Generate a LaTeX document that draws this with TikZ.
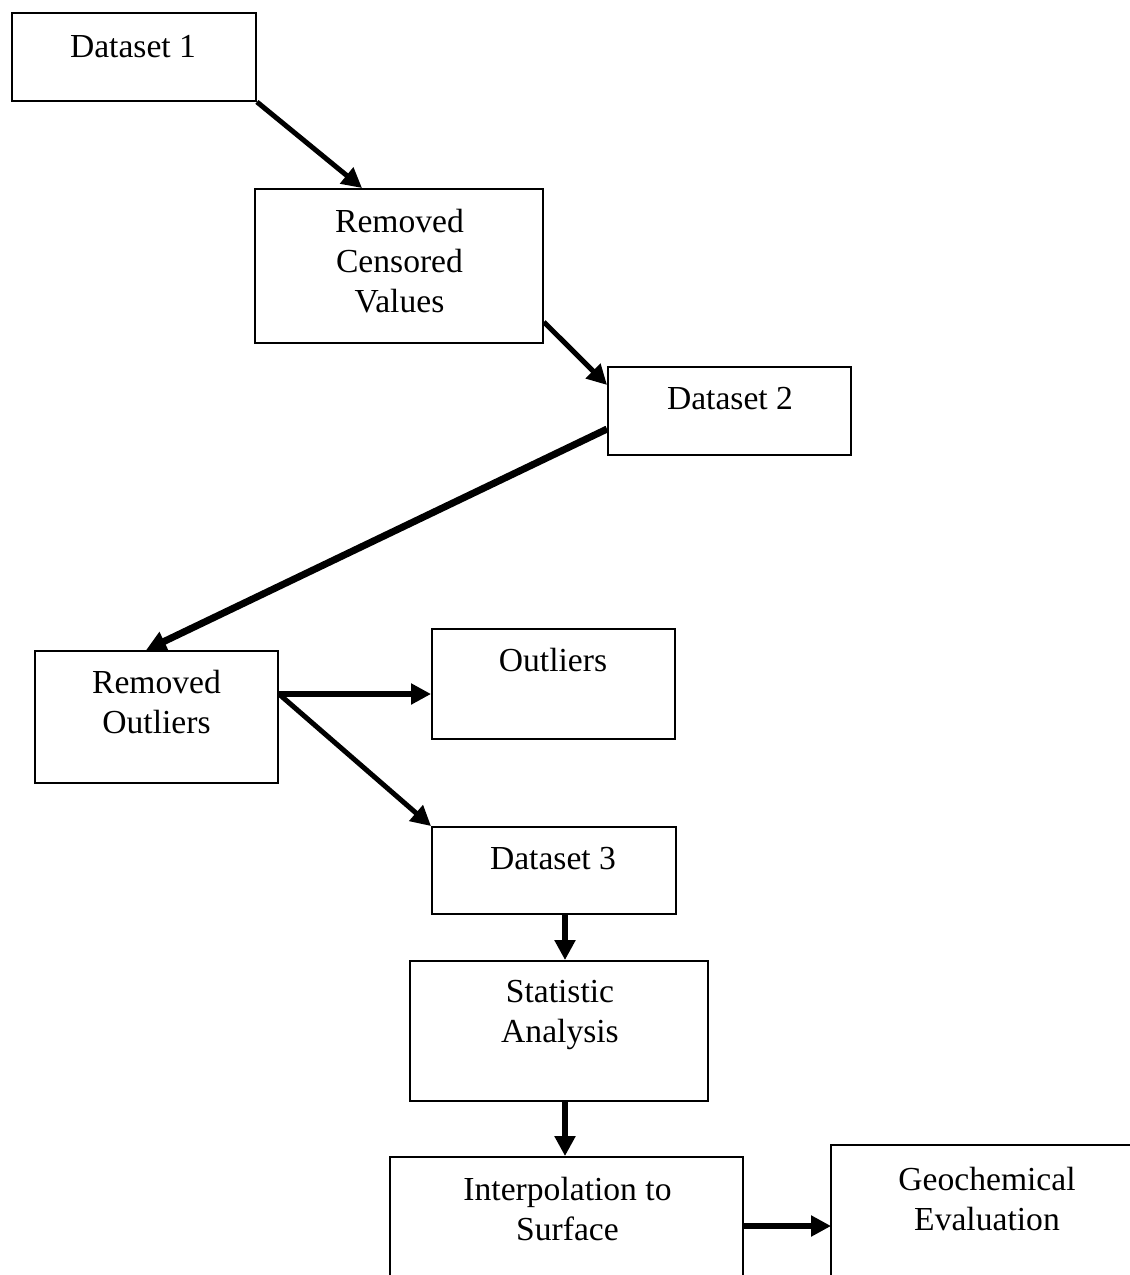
\documentclass[tikz,border=0pt]{standalone}
\usepackage{fontspec}
\setmainfont{Liberation Serif}
\usetikzlibrary{arrows.meta,calc}
\begin{document}
\begin{tikzpicture}[x=0.75pt,y=-0.75pt,
  box/.style={draw=black, line width=1.4pt, rectangle, inner sep=0pt},
  openbox/.style={rectangle, inner sep=0pt, outer sep=0.7pt},
  edge line/.style={draw=black, line width=1.4pt},
  lbl/.style={font=\fontsize{25.2pt}{30pt}\selectfont, align=center, inner sep=0pt, anchor=north},
  conn/.style={draw=black, line width=3.75pt, -{Triangle[length=15pt,width=15pt]}},
  thick conn/.style={conn, line width=4.5pt},
]
\useasboundingbox (0,0) rectangle (1130,1275);
\clip (0,0) rectangle (1130,1275);

% boxes
\node[box, minimum width=183pt, minimum height=66pt] (d1) at (134,57) {};
\node[box, minimum width=216pt, minimum height=115.5pt] (rc) at (399,266) {};
\node[box, minimum width=182.25pt, minimum height=66pt] (d2) at (729.5,411) {};
\node[box, minimum width=182.25pt, minimum height=99pt] (ro) at (156.5,717) {};
\node[box, minimum width=182.25pt, minimum height=82.5pt] (out) at (553.5,684) {};
\node[box, minimum width=183pt, minimum height=65.25pt] (d3) at (554,870.5) {};
\node[box, minimum width=223.5pt, minimum height=105pt] (st) at (559,1031) {};
\node[box, minimum width=264.75pt, minimum height=107.25pt] (ip) at (566.5,1228.5) {};
% box cut off by the bottom and right edges of the picture
\node[openbox, minimum width=261pt, minimum height=115.5pt] (ge) at (1006,1223) {};
\draw[edge line] (ge.south west) -- (ge.north west) -- (ge.north east);

% labels
\node[lbl] (d1t) at (133,35) {Dataset 1};
\node[lbl] (rct) at (399.5,209) {Removed\\Censored\\Values};
\node[lbl] (d2t) at (730,387) {Dataset 2};
\node[lbl] (rot) at (156.5,670) {Removed\\Outliers};
\node[lbl] (outt) at (553,648) {Outliers};
\node[lbl] (d3t) at (553,847) {Dataset 3};
\node[lbl] (stt) at (560,980) {Statistic\\Analysis};
\node[lbl] (ipt) at (567.5,1177) {Interpolation to\\Surface};
\node[lbl] (get) at (987,1167) {Geochemical\\Evaluation};

% connectors
\draw[conn] (d1.south east) -- ([xshift=81pt]rc.north west);
\draw[conn] ([yshift=-42pt]rc.east) -- ([yshift=19.5pt]d2.west);
\draw[conn, line width=5.25pt] ([yshift=-13.5pt]d2.west) -- ([xshift=84pt]ro.north west);
\coordinate (split) at ([yshift=17.25pt]ro.east);
\draw[thick conn] (split) -- (out.west |- split);
\draw[conn] (split) -- (d3.north west);
\coordinate (colx) at (565,0);
\draw[thick conn] (d3.south -| colx) -- (st.north -| colx);
\draw[thick conn] (st.south -| colx) -- (ip.north -| colx);
\coordinate (rowy) at (0,1226);
\draw[thick conn] (ip.east |- rowy) -- (ge.west |- rowy);
\end{tikzpicture}
\end{document}
